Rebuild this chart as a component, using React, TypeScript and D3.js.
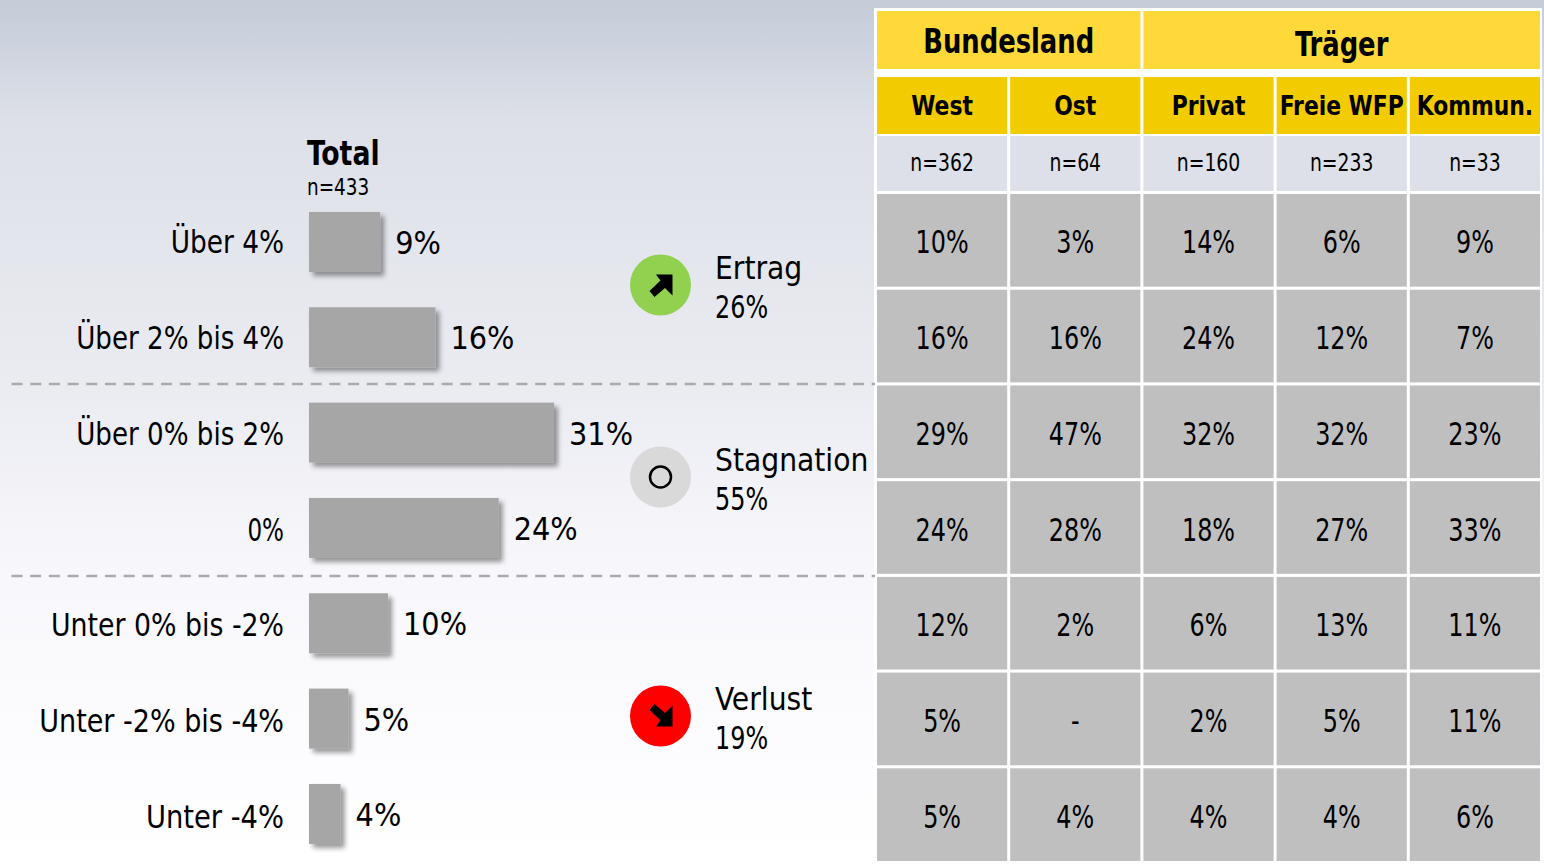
import React from "react";
import * as d3 from "d3";

const FONT = "'DejaVu Sans Condensed','DejaVu Sans',sans-serif";
const rowLabels = ["Über 4%", "Über 2% bis 4%", "Über 0% bis 2%", "0%", "Unter 0% bis -2%", "Unter -2% bis -4%", "Unter -4%"];
const labelSqueeze = [0.915, 0.908, 0.908, 0.8, 0.93, 0.938, 0.95];
const totalValues = [9, 16, 31, 24, 10, 5, 4];
const groups = [
  { name: "Bundesland", from: 0, to: 1 },
  { name: "Träger", from: 2, to: 4 },
];
const columns = ["West", "Ost", "Privat", "Freie WFP", "Kommun."];
const columnN = ["n=362", "n=64", "n=160", "n=233", "n=33"];
const westValues = ["10%", "16%", "29%", "24%", "12%", "5%", "5%"];
const ostValues = ["3%", "16%", "47%", "28%", "2%", "-", "4%"];
const privatValues = ["14%", "24%", "32%", "18%", "6%", "2%", "4%"];
const freieValues = ["6%", "12%", "32%", "27%", "13%", "5%", "4%"];
const kommunValues = ["9%", "7%", "23%", "33%", "11%", "11%", "6%"];
const tableValues = [westValues, ostValues, privatValues, freieValues, kommunValues];
const summary = [
  { name: "Ertrag", value: "26%", kind: "up" },
  { name: "Stagnation", value: "55%", kind: "flat" },
  { name: "Verlust", value: "19%", kind: "down" },
];

function T({ x, y, s = 1, size, anchor = "start", bold = false, children }: any) {
  return (
    <text
      transform={`translate(${x},${y}) scale(${s},1)`}
      fontSize={size}
      fontWeight={bold ? 700 : 400}
      textAnchor={anchor}
      fill="#000"
    >
      {children}
    </text>
  );
}

export default function App() {
  const x = d3.scaleLinear().domain([0, 31]).range([309, 554]);
  const rowBand = d3.scaleBand<number>().domain(d3.range(7)).range([192.5, 862.5]).paddingInner(0.032).paddingOuter(0.016);
  const barBand = d3.scaleBand<number>().domain(d3.range(7)).range([194.3, 861.6]).paddingInner(0.37).paddingOuter(0.185);
  const colBand = d3.scaleBand<number>().domain(d3.range(5)).range([875.5, 1541.5]).paddingInner(0.0225).paddingOuter(0.0112);
  const summaryY = [285, 477, 716];
  const arrow = "M-4.5,-10.5 L12,-10.5 L12,10.5 L4.5,3 L-6,12 L-11,6 L0,-4.5 Z";
  return (
    <svg width={1544} height={866} style={{ position: "absolute", left: 0, top: 0, fontFamily: FONT }}>
      <defs>
        <linearGradient id="bg" x1="0" y1="0" x2="0" y2="1">
          <stop offset="0" stopColor="#c4ccd8" />
          <stop offset="0.14" stopColor="#dde0e8" />
          <stop offset="0.45" stopColor="#ebecf2" />
          <stop offset="0.67" stopColor="#f8f8fc" />
          <stop offset="0.85" stopColor="#fcfcff" />
          <stop offset="1" stopColor="#ffffff" />
        </linearGradient>
        <filter id="sh" x="-30%" y="-30%" width="170%" height="170%">
          <feDropShadow dx="4" dy="4" stdDeviation="2.5" floodColor="#000" floodOpacity="0.4" />
        </filter>
      </defs>
      <rect width={1544} height={866} fill="url(#bg)" />
      <rect x={874} y={8} width={668} height={858} fill="#fff" />

      <T x={307} y={165} size={33} s={0.9} bold>Total</T>
      <T x={307} y={195} size={23} s={0.89}>n=433</T>

      {totalValues.map((v, i) => {
        const cy = barBand(i)! + barBand.bandwidth() / 2;
        const ty = rowBand(i)! + rowBand.bandwidth() / 2 + 13;
        return (
          <g key={i}>
            <T x={284} y={ty} size={32} s={labelSqueeze[i]} anchor="end">{rowLabels[i]}</T>
            <rect x={x(0)} y={cy - 30} width={x(v) - x(0)} height={60} fill="#a6a6a6" filter="url(#sh)" />
            <T x={x(v) + 15} y={cy + 12} size={32}>{v}%</T>
          </g>
        );
      })}

      {[384, 576].map((y) => (
        <line key={y} x1={11.5} x2={875} y1={y} y2={y} stroke="#aaaaaa" strokeWidth={2.6} strokeDasharray="11 7.7" />
      ))}

      {summary.map((s, i) => (
        <g key={s.name}>
          <circle cx={660.5} cy={summaryY[i]} r={30.5} fill={s.kind === "up" ? "#92d050" : s.kind === "flat" ? "#d9d9d9" : "#ff0000"} />
          {s.kind === "flat" ? (
            <circle cx={660.5} cy={summaryY[i]} r={10.5} fill="none" stroke="#000" strokeWidth={2.5} />
          ) : (
            <path
              d={arrow}
              transform={`translate(660.5,${summaryY[i]}) scale(${s.kind === "up" ? "1,1" : "1,-1"})`}
              fill="#000"
            />
          )}
          <T x={715} y={summaryY[i] - 6} size={32} s={0.98}>{s.name}</T>
          <T x={715} y={summaryY[i] + 33} size={32} s={0.83}>{s.value}</T>
        </g>
      ))}

      {groups.map((g) => {
        const x0 = colBand(g.from)!;
        const x1 = colBand(g.to)! + colBand.bandwidth();
        return (
          <g key={g.name}>
            <rect x={x0} y={11} width={x1 - x0} height={58} fill="#ffd839" />
            <T x={(x0 + x1) / 2} y={g.name === "Träger" ? 55.5 : 53} size={33} s={0.87} bold anchor="middle">{g.name}</T>
          </g>
        );
      })}

      {columns.map((c, j) => {
        const cx = colBand(j)! + colBand.bandwidth() / 2;
        return (
          <g key={c}>
            <rect x={colBand(j)} y={77} width={colBand.bandwidth()} height={57} fill="#f2cb00" />
            <T x={cx} y={115} size={27} s={0.9} bold anchor="middle">{c}</T>
            <rect x={colBand(j)} y={136} width={colBand.bandwidth()} height={55} fill="#dde0e8" />
            <T x={cx} y={171} size={24} s={0.87} anchor="middle">{columnN[j]}</T>
            {tableValues[j].map((v, i) => (
              <g key={i}>
                <rect x={colBand(j)} y={rowBand(i)} width={colBand.bandwidth()} height={rowBand.bandwidth()} fill="#bfbfbf" />
                <T x={cx} y={rowBand(i)! + rowBand.bandwidth() / 2 + 13} size={32} s={0.83} anchor="middle">{v}</T>
              </g>
            ))}
          </g>
        );
      })}
    </svg>
  );
}
